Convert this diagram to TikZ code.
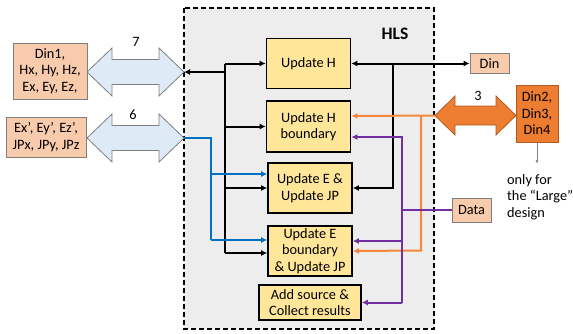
\documentclass[tikz,border=0pt]{standalone}
\usepackage{fontspec}
\setmainfont{Carlito}
\usepackage{xcolor}
\usepackage{tikz}
\usetikzlibrary{calc,arrows.meta}
\definecolor{hlsbg}{HTML}{EDEDED}
\definecolor{unit}{HTML}{FFE699}
\definecolor{peach}{HTML}{F8CBAD}
\definecolor{peachline}{HTML}{7F7F7F}
\definecolor{orng}{HTML}{ED7D31}
\definecolor{orngline}{HTML}{AE5A21}
\definecolor{orngwire}{HTML}{F4873A}
\definecolor{paleblue}{HTML}{DEEBF7}
\definecolor{bluewire}{HTML}{0070C0}
\definecolor{purplewire}{HTML}{7030A0}
\tikzset{
  txt/.style={font=\fontsize{14.3}{16.5}\selectfont, align=center},
  unitbox/.style={txt, draw=black, line width=1.6pt, fill=unit, inner sep=0pt},
  iobox/.style={txt, draw=peachline, line width=0.8pt, fill=peach, inner sep=0pt},
  bigarr/.style={draw=peachline, line width=0.8pt, fill=paleblue, line join=miter},
  orarr/.style={draw=orngline, line width=0.8pt, fill=orng, line join=miter},
  wire/.style={line width=2pt, line join=miter, -{Latex[length=6pt,width=6pt]}},
  blk/.style={wire, draw=black},
  orw/.style={wire, draw=orngwire},
  puw/.style={wire, draw=purplewire},
  blw/.style={wire, draw=bluewire},
}

\begin{document}
\begin{tikzpicture}[x=1pt,y=-1pt]
  \useasboundingbox (0,0) rectangle (573,333);
  % HLS region
  \draw[black, line width=1.8pt, dash pattern=on 5pt off 3pt, fill=hlsbg] (184,8) rectangle (434,329);
  \node[font=\fontsize{17.5}{20}\selectfont\bfseries] (hls) at (395,34) {HLS};

  % update units
  \node[unitbox, minimum width=84pt, minimum height=50pt] (uh)  at (308.5,63.5) {Update H};
  \node[unitbox, minimum width=84pt, minimum height=51pt] (uhb) at (308.5,126.5) {Update H\\boundary};
  \node[unitbox, minimum width=84pt, minimum height=50pt] (ue)  at (310,188) {Update E \&\\Update JP};
  \node[unitbox, minimum width=84pt, minimum height=50pt] (ueb) at (310,251) {Update E\\boundary\\\& Update JP};
  \node[unitbox, minimum width=102pt, minimum height=35pt] (add) at (310,302.5) {Add source \&\\Collect results};

  % outside data
  \node[iobox, minimum width=74pt, minimum height=56pt] (din1) at (50,71) {Din1,\\Hx, Hy, Hz,\\Ex, Ey, Ez,};
  \node[iobox, minimum width=80pt, minimum height=40pt] (exp)  at (46,137) {Ex’, Ey’, Ez’,\\JPx, JPy, JPz};
  \node[iobox, minimum width=39pt, minimum height=20pt] (din)  at (489.5,63.5) {Din};
  \node[iobox, minimum width=39pt, minimum height=24pt] (data) at (471.5,210) {Data};
  \node[txt, draw=orngline, line width=0.8pt, fill=orng, inner sep=0pt,
        minimum width=42pt, minimum height=57pt] (din2) at (537,113.5) {Din2,\\Din3,\\Din4};
  \node[txt, align=left, anchor=north west, inner sep=0pt] (note) at (507,174) {only for\\the “Large”\\design};
  \draw[gray, line width=0.6pt, -{Latex[length=3pt,width=3pt]}] (din2.south) -- ++(0,21);

  % block arrows
  \coordinate (a7L) at (87,72);   \coordinate (a7R) at (184,72);
  \coordinate (a6L) at (87,138);  \coordinate (a6R) at (184,138);
  \coordinate (a3L) at (435,115.5); \coordinate (a3R) at (516,115.5);
  \draw[bigarr] (a7L) -- ++(25,-24) -- ++(0,11.5) -- ++(47,0) -- ++(0,-11.5) -- (a7R)
    -- ++(-25,24) -- ++(0,-11.5) -- ++(-47,0) -- ++(0,11.5) -- cycle;
  \draw[bigarr] (a6L) -- ++(25,-24) -- ++(0,11.5) -- ++(47,0) -- ++(0,-11.5) -- (a6R)
    -- ++(-25,24) -- ++(0,-11.5) -- ++(-47,0) -- ++(0,11.5) -- cycle;
  \draw[orarr] (a3L) -- ++(20,-19.5) -- ++(0,10) -- ++(41,0) -- ++(0,-10) -- (a3R)
    -- ++(-20,19.5) -- ++(0,-10) -- ++(-41,0) -- ++(0,10) -- cycle;
  \node[txt] (n7) at (136,42) {7};
  \node[txt] (n6) at (133,115) {6};
  \node[txt] (n3) at (478,96) {3};

  % black bus
  \coordinate (bk) at (225,72);
  \draw[blk, {Latex[length=6pt,width=6pt]}-] (a7R) -- (bk);
  \draw[line width=2pt] (225,63.5) -- (225,253);
  \draw[blk] (225,63.5) -- (uh.west);
  \draw[blk] (225,126.5) -- (uhb.west);
  \draw[blk] (225,188) -- (ue.west);
  \draw[blk] (225,253) -- ($(ueb.west)+(0,2)$);
  \draw[blk, {Latex[length=6pt,width=6pt]}-{Latex[length=6pt,width=6pt]}] (uh.east) -- (din.west);
  \draw[blk] (393,63.5) -- (393,188) -- (ue.east);

  % blue wires
  \draw[line width=2pt, draw=bluewire] (a6R) -- (211,138) -- (211,240);
  \draw[blw] (211,174) -- ($(ue.west)+(0,-14)$);
  \draw[blw] (211,240) -- ($(ueb.west)+(0,-11)$);

  % orange wires
  \draw[orw] (a3L) -- ($(uhb.east)+(0,-10.5)$);
  \draw[orw] (421,115.5) -- (421,250.5) -- (ueb.east);

  % purple wires
  \draw[line width=2pt, draw=purplewire] (data.west) -- (402,210);
  \draw[puw] (402,302.5) -- (402,137) -- ($(uhb.east)+(0,10.5)$);
  \draw[puw] (402,241) -- ($(ueb.east)+(0,-10)$);
  \draw[puw] (402,302.5) -- (add.east);
\end{tikzpicture}
\end{document}
